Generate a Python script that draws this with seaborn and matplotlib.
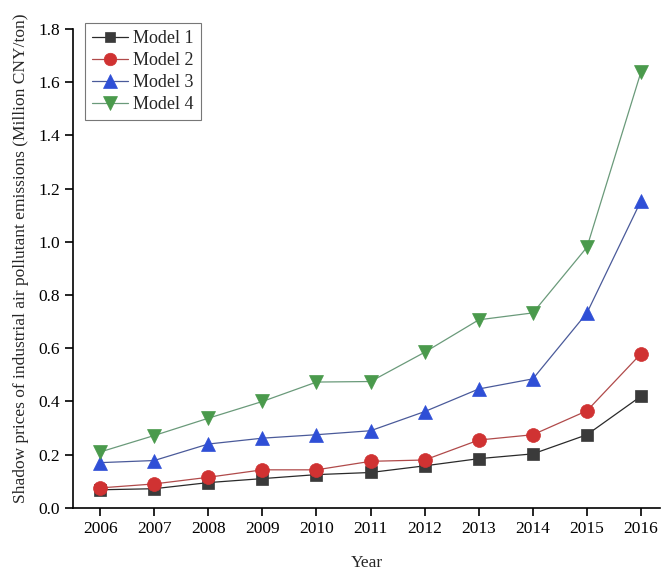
import matplotlib
matplotlib.use("Agg")
import matplotlib.pyplot as plt
import seaborn as sns
import pandas as pd

years = [2006, 2007, 2008, 2009, 2010, 2011, 2012, 2013, 2014, 2015, 2016]
model_1 = [0.068, 0.072, 0.095, 0.110, 0.125, 0.133, 0.158, 0.185, 0.203, 0.275, 0.420]
model_2 = [0.075, 0.090, 0.115, 0.143, 0.143, 0.175, 0.180, 0.255, 0.275, 0.365, 0.580]
model_3 = [0.170, 0.178, 0.240, 0.262, 0.275, 0.290, 0.362, 0.447, 0.485, 0.733, 1.155]
model_4 = [0.210, 0.272, 0.337, 0.400, 0.473, 0.475, 0.585, 0.707, 0.733, 0.980, 1.640]
series_names = ["Model 1", "Model 2", "Model 3", "Model 4"]
y_ticks = [0.0, 0.2, 0.4, 0.6, 0.8, 1.0, 1.2, 1.4, 1.6, 1.8]

sns.set_theme(style="ticks")
plt.rcParams["font.family"] = ["Liberation Serif", "DejaVu Serif"]

df = pd.DataFrame({
    "Year": years * 4,
    "Price": model_1 + model_2 + model_3 + model_4,
    "Model": sum([[n] * len(years) for n in series_names], []),
})

styles = {
    "Model 1": dict(marker="s", face="#3a3a3a", line="#2a2a2a", ms=8.5),
    "Model 2": dict(marker="o", face="#d03232", line="#b04a4a", ms=10),
    "Model 3": dict(marker="^", face="#2f4fd6", line="#4a5a9a", ms=10.5),
    "Model 4": dict(marker="v", face="#4a9a4c", line="#6a9a7a", ms=10.5),
}

fig = plt.figure(figsize=(6.64, 5.70), dpi=100)
ax = fig.add_axes([0.110, 0.109, 0.884, 0.840])

for name in series_names:
    st = styles[name]
    sub = df[df["Model"] == name]
    sns.lineplot(data=sub, x="Year", y="Price", ax=ax, label=name,
                 color=st["line"], linewidth=0.9, marker=st["marker"],
                 markersize=st["ms"], markerfacecolor=st["face"],
                 markeredgecolor=st["face"], markeredgewidth=0.5)

ax.set_xlim(2005.5, 2016.35)
ax.set_ylim(0, 1.8)
ax.set_xticks(years)
ax.set_xticklabels([str(y) for y in years])
ax.set_yticks(y_ticks)
ax.set_yticklabels([f"{v:.1f}" for v in y_ticks])
ax.tick_params(axis="both", direction="out", length=6, width=1.2,
               labelsize=12.5, colors="black")
for side in ["top", "right"]:
    ax.spines[side].set_visible(False)
for side in ["left", "bottom"]:
    ax.spines[side].set_linewidth(1.2)
    ax.spines[side].set_color("black")

ax.set_xlabel("Year", fontsize=12.5, labelpad=13)
ax.set_ylabel("Shadow prices of industrial air pollutant emissions (Million CNY/ton)",
              fontsize=12.5)
ax.yaxis.set_label_coords(-0.075, 0.522)

leg = ax.legend(loc="upper left", bbox_to_anchor=(0.02, 1.0125), borderaxespad=0,
                fontsize=13, frameon=True, fancybox=False, borderpad=0.38,
                labelspacing=0.28, handlelength=2.0, handletextpad=0.3,
                markerscale=0.9)
leg.get_frame().set_edgecolor("#555555")
leg.get_frame().set_linewidth(0.8)

fig.savefig("out.png", dpi=100)
